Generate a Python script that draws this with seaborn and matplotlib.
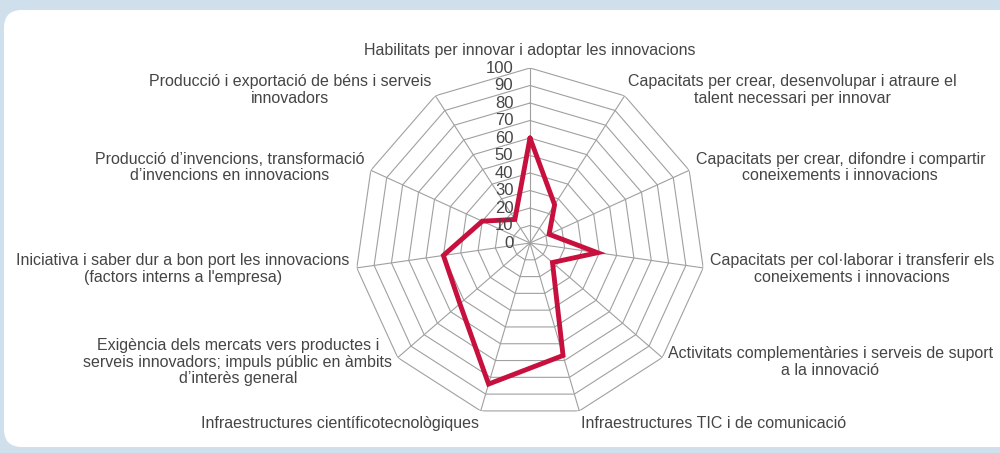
import numpy as np
import matplotlib
matplotlib.use("Agg")
import matplotlib.pyplot as plt
import seaborn as sns
from matplotlib.patches import FancyBboxPatch
from matplotlib.transforms import offset_copy

# Data
categories = [
    "Habilitats per innovar i adoptar les innovacions",
    "Capacitats per crear, desenvolupar i atraure el\ntalent necessari per innovar",
    "Capacitats per crear, difondre i compartir\nconeixements i innovacions",
    "Capacitats per col·laborar i transferir els\nconeixements i innovacions",
    "Activitats complementàries i serveis de suport\na la innovació",
    "Infraestructures TIC i de comunicació",
    "Infraestructures científicotecnològiques",
    "Exigència dels mercats vers productes i\nserveis innovadors; impuls públic en àmbits\nd’interès general",
    "Iniciativa i saber dur a bon port les innovacions\n(factors interns a l'empresa)",
    "Producció d’invencions, transformació\nd’invencions en innovacions",
    "Producció i exportació de béns i serveis\ninnovadors",
]
values = [60, 26, 12, 39, 17, 67, 84, 53, 50, 30, 16]
r_ticks = [0, 10, 20, 30, 40, 50, 60, 70, 80, 90, 100]

sns.set_style("white")
plt.rcParams["font.family"] = ["Liberation Sans", "DejaVu Sans"]

line_color = "#C8103E"
grid_color = "#a0a0a0"
text_color = "#454545"

fig = plt.figure(figsize=(10, 4.53), dpi=100)
fig.patch.set_facecolor("#CFE0EC")

# white rounded panel
panel = FancyBboxPatch((4, 6), 1030, 437, boxstyle="round,pad=0,rounding_size=18",
                       transform=None, facecolor="white", edgecolor="none", zorder=-5)
fig.patches.append(panel)

# polar axes: centre at (530, 243) px, radius 175 px
ax = fig.add_axes([0.355, 35 / 453, 0.35, 350 / 453], projection="polar")
ax.set_zorder(2)
ax.set_facecolor("none")
ax.set_theta_zero_location("N")
ax.set_theta_direction(-1)
ax.set_ylim(0, 100)
ax.grid(False)
ax.set_xticks([])
ax.set_yticks([])
ax.spines["polar"].set_visible(False)

n = len(categories)
angles = np.linspace(0, 2 * np.pi, n, endpoint=False)
closed = np.append(angles, angles[0])

# polygon grid
for lvl in r_ticks[1:]:
    ax.plot(closed, [lvl] * (n + 1), color=grid_color, lw=0.8, zorder=1)
for a in angles:
    ax.plot([a, a], [0, 100], color=grid_color, lw=0.8, zorder=1)

# data series
ax.plot(closed, values + values[:1], color=line_color, lw=3.5, zorder=3,
        solid_joinstyle="miter")

# radial tick labels on the top spoke
tick_tr = offset_copy(ax.transData, fig=fig, x=-12, y=0, units="points")
for t in r_ticks:
    ax.text(0, t, str(t), transform=tick_tr, ha="right", va="center",
            fontsize=12, color=text_color, zorder=4)

# category labels
for a, lab in zip(angles, categories):
    s = np.sin(a)
    c = np.cos(a)
    if s > 0.1:
        ha = "left"
    elif s < -0.1:
        ha = "right"
    else:
        ha = "center"
    if c > 0.95:
        va = "bottom"
        r = 106
    elif c < -0.9:
        va = "top"
        r = 103
    else:
        va = "center"
        r = 104
    ax.text(a, r, lab, ha=ha, va=va, multialignment="center",
            fontsize=11.5, color=text_color, linespacing=1.12)

fig.savefig("out.png", dpi=100, facecolor=fig.get_facecolor())
